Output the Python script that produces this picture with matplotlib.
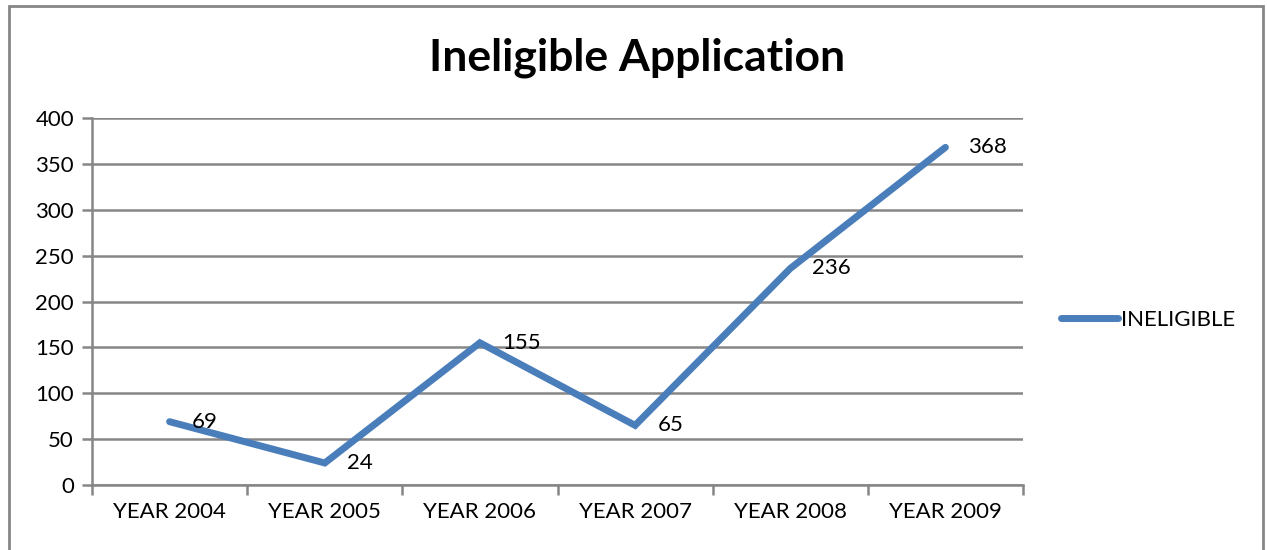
import matplotlib.pyplot as plt
from matplotlib.patches import Rectangle

# data
years = ['YEAR 2004', 'YEAR 2005', 'YEAR 2006', 'YEAR 2007', 'YEAR 2008', 'YEAR 2009']
ineligible = [69, 24, 155, 65, 236, 368]

plt.rcParams['font.family'] = ['Lato', 'DejaVu Sans']
grey = '#868686'
blue = '#4A7EBB'

fig = plt.figure(figsize=(12.67, 5.5), dpi=100)
ax = fig.add_axes([92 / 1267, 1 - 485 / 550, (1023 - 92) / 1267, (485 - 118) / 550])

x = list(range(len(years)))
ax.plot(x, ineligible, color=blue, lw=5, solid_capstyle='round',
        solid_joinstyle='miter', label='INELIGIBLE', zorder=3)
for xi, v in zip(x, ineligible):
    ax.annotate(str(v), (xi, v), xytext=(16, 0), textcoords='offset points',
                ha='left', va='center', fontsize=16, zorder=4)

ax.set_xlim(-0.5, len(years) - 0.5)
ax.set_ylim(0, 400)
ax.set_yticks(range(0, 401, 50))
ax.yaxis.grid(True, color=grey, lw=1.8)
ax.set_axisbelow(True)

ax.set_xticks([i - 0.5 for i in range(len(years) + 1)])
ax.set_xticklabels([])
ax.set_xticks(x, minor=True)
ax.set_xticklabels(years, minor=True, fontsize=16)
ax.tick_params(axis='x', which='minor', length=0, pad=12)
ax.tick_params(axis='x', which='major', length=7, width=1.8, color=grey, direction='out')
ax.tick_params(axis='y', length=7, width=1.8, color=grey, labelsize=16, pad=6)

for s in ['top', 'right']:
    ax.spines[s].set_visible(False)
for s in ['left', 'bottom']:
    ax.spines[s].set_color(grey)
    ax.spines[s].set_linewidth(1.8)

fig.text(637 / 1267, 1 - 58 / 550, 'Ineligible Application', ha='center', va='center',
         fontsize=32, fontweight='bold')

ax.legend(loc='center left', bbox_to_anchor=(1.019, 0.45), frameon=False, fontsize=16,
          handlelength=2.6, handletextpad=0.1)

fig.patches.append(Rectangle((9 / 1267, -0.05), (1263 - 9) / 1267, 1.05 - 6 / 550,
                             transform=fig.transFigure, fill=False, edgecolor=grey, lw=2))

fig.savefig('out.png', dpi=100)
